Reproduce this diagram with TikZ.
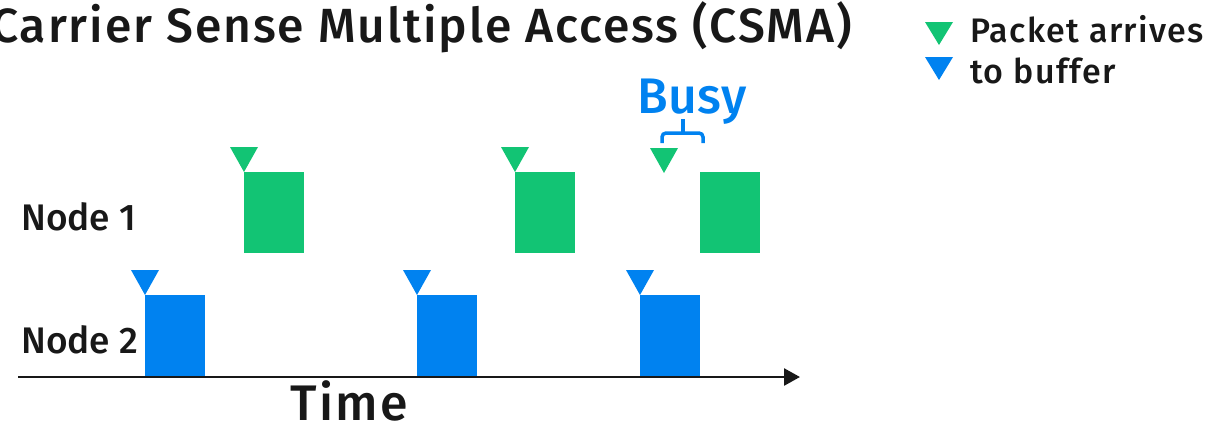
\documentclass[tikz,border=0pt]{standalone}
\usepackage{fontspec}
\setmainfont{Fira Sans}[UprightFont={* Medium}]
\usetikzlibrary{arrows.meta,calc}
\definecolor{pktgreen}{RGB}{18,196,116}
\definecolor{pktblue}{RGB}{0,130,240}
\definecolor{ink}{RGB}{24,24,24}
\tikzset{
  label text/.style={anchor=base west, inner sep=0pt, text=ink},
  frame1/.style={fill=pktgreen, draw=none, minimum width=60pt, minimum height=81pt, inner sep=0pt, anchor=north west},
  frame2/.style={fill=pktblue, draw=none, minimum width=60pt, minimum height=82pt, inner sep=0pt, anchor=north west},
}
% arrival marker: downward triangle whose tip touches the given point
\newcommand{\arrival}[2]{\fill[#1] ($(#2)+(-14,-25)$) -- ($(#2)+(14,-25)$) -- (#2) -- cycle;}
\begin{document}
\begin{tikzpicture}[x=1pt,y=-1pt]
  \useasboundingbox (0,0) rectangle (1210,424);
  \clip (0,0) rectangle (1210,424);

  % title
  \node[label text, font=\fontsize{48}{50}\selectfont\addfontfeatures{LetterSpace=4}] (title) at (-9,42) {Carrier Sense Multiple Access (CSMA)};

  % legend
  \fill[pktgreen] (925,22) -- (953,22) -- (939,45) -- cycle;
  \fill[pktblue]  (925,57) -- (953,57) -- (939,80) -- cycle;
  \node[label text, font=\fontsize{34}{36}\selectfont\addfontfeatures{LetterSpace=4}] (leg1) at (970,42) {Packet arrives};
  \node[label text, font=\fontsize{34}{36}\selectfont\addfontfeatures{LetterSpace=4}] (leg2) at (970,83) {to buffer};

  % row labels
  \node[label text, font=\fontsize{37}{39}\selectfont] (n1) at (21,230) {Node 1};
  \node[label text, font=\fontsize{37}{39}\selectfont] (n2) at (21,353) {Node 2};

  % transmissions of node 1
  \node[frame1] (g1) at (244,172) {};
  \node[frame1] (g2) at (515,172) {};
  \node[frame1] (g3) at (700,172) {};
  \arrival{pktgreen}{g1.north west}
  \arrival{pktgreen}{g2.north west}
  \coordinate (g3arr) at (664,173);
  \arrival{pktgreen}{g3arr}

  % transmissions of node 2
  \node[frame2] (b1) at (145,295) {};
  \node[frame2] (b2) at (417,295) {};
  \node[frame2] (b3) at (640,295) {};
  \arrival{pktblue}{b1.north west}
  \arrival{pktblue}{b2.north west}
  \arrival{pktblue}{b3.north west}

  % time axis
  \coordinate (t0) at (18,377);
  \coordinate (t1) at (800,377);
  \draw[line width=2.6pt, ink, -{Triangle[length=16pt,width=17pt]}] (t0) -- (t1);
  \node[label text, font=\fontsize{50}{52}\selectfont\addfontfeatures{LetterSpace=5}] (time) at (290,420) {Time};

  % busy period of the channel
  \node[label text, text=pktblue, font=\fontsize{50}{52}\selectfont\addfontfeatures{LetterSpace=1}] (busy) at (637,113) {Busy};
  \draw[pktblue, line width=3.5pt, rounded corners=4pt] (662,143) -- (662,133) -- (703,133) -- (703,143);
  \draw[pktblue, line width=3.5pt] (683,134) -- (683,119);
\end{tikzpicture}
\end{document}
